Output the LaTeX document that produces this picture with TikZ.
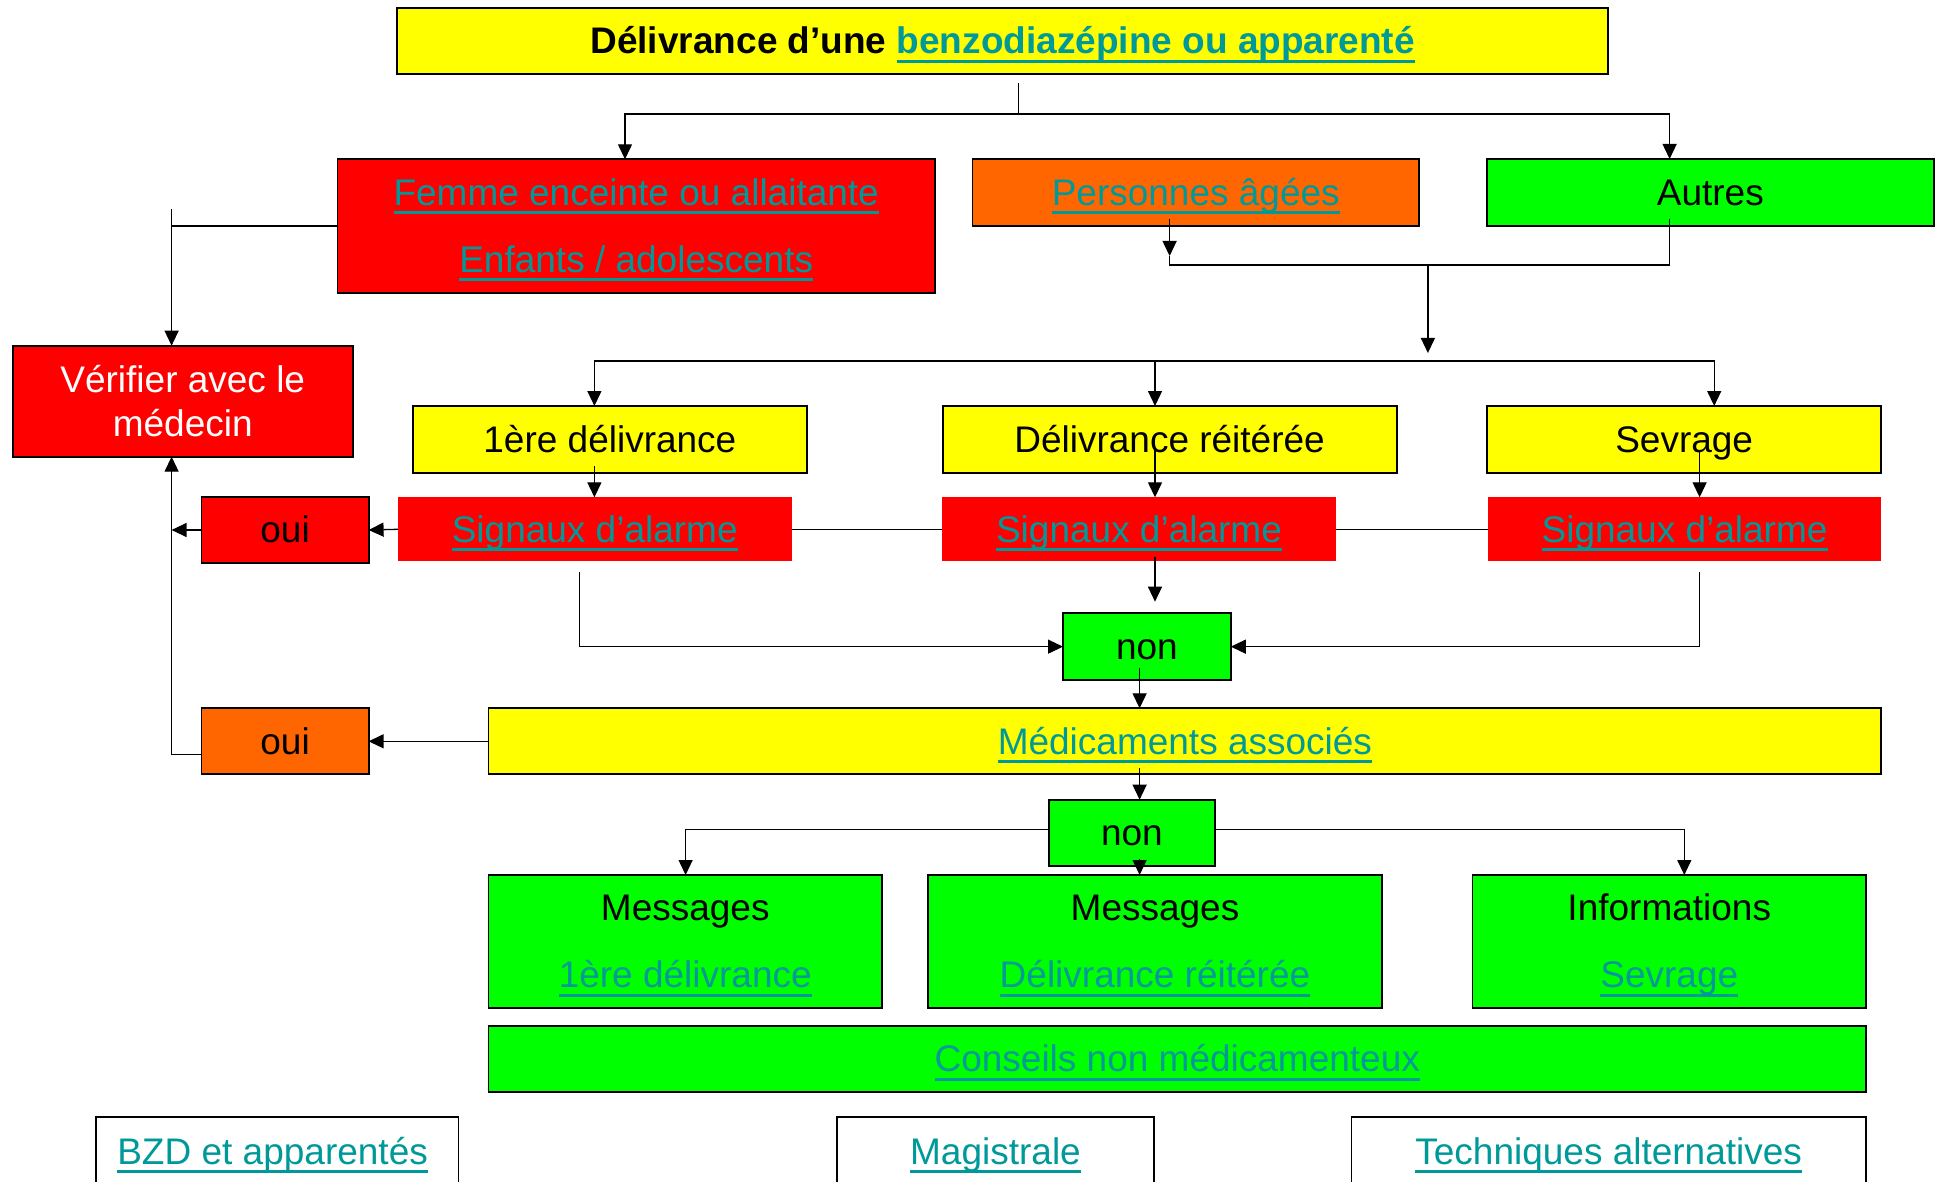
\documentclass[tikz,border=0pt]{standalone}
\usepackage{fontspec}
\setmainfont{Liberation Sans}
\usetikzlibrary{arrows.meta,calc}
\definecolor{jaune}{HTML}{FFFF00}
\definecolor{rouge}{HTML}{FF0000}
\definecolor{orangec}{HTML}{FF6600}
\definecolor{vert}{HTML}{00FF00}
\definecolor{liencol}{HTML}{009999}
\newcommand{\taille}{\fontsize{18.5}{22}\selectfont}
\newcommand{\ppstrut}{\rule[-0.212em]{0pt}{1.117em}}
\newsavebox{\boxlien}
\newcommand{\hlien}[1]{\textcolor{liencol}{\sbox{\boxlien}{#1}\rlap{\smash{\rule[-4.35pt]{\wd\boxlien}{1.3pt}}}\usebox{\boxlien}}}

\begin{document}
\begin{tikzpicture}[x=0.5pt, y=-0.5pt, >={Triangle[length=7.5pt,width=7pt]}, line width=0.65pt,
    boite/.style={draw, line width=0.9pt, inner sep=0pt, outer sep=0pt, align=center, font=\taille,
      execute at begin node=\ppstrut, execute at end node=\ppstrut},
    jaunebox/.style={boite, fill=jaune},
    rougebox/.style={boite, fill=rouge},
    orangebox/.style={boite, fill=orangec},
    vertbox/.style={boite, fill=vert},
    alarmebox/.style={boite, draw=none, fill=rouge},
    lienbox/.style={boite, fill=white}]
    \fill[white, use as bounding box] (0,0) rectangle (1939,1182);
    \clip (0,0) rectangle (1939,1182);

    % titre et populations
    \node[jaunebox, minimum width=605.4pt, minimum height=33pt] (titre) at (1002.65,41)
        {\textbf{Délivrance d’une \hlien{benzodiazépine ou apparenté}}};
    \node[rougebox, minimum width=298.8pt, minimum height=66.7pt] (femme) at (636.2,226)
        {\ppstrut\hlien{Femme enceinte ou allaitante}\\[11.5pt]\hlien{Enfants / adolescents}\ppstrut};
    \node[orangebox, minimum width=223.25pt, minimum height=33.35pt] (agees) at (1195.75,192.35) {\hlien{Personnes âgées}};
    \node[vertbox, minimum width=223.3pt, minimum height=33.35pt] (autres) at (1710.3,192.35) {Autres};
    \node[rougebox, text=white, minimum width=170pt, minimum height=55.5pt] (verifier) at (182.75,401.2)
        {\ppstrut Vérifier avec le\\médecin\ppstrut};

    % type de delivrance
    \node[jaunebox, minimum width=196.9pt, minimum height=33.35pt] (prem) at (609.9,439.35) {1ère délivrance};
    \node[jaunebox, minimum width=227pt, minimum height=33.35pt] (reit) at (1169.6,439.35) {Délivrance réitérée};
    \node[jaunebox, minimum width=197.15pt, minimum height=33.35pt] (sevr) at (1684.15,439.35) {Sevrage};

    % signaux d'alarme
    \node[alarmebox, minimum width=196.75pt, minimum height=32pt] (sig1) at (594.75,529.3) {\hlien{Signaux d’alarme}};
    \node[alarmebox, minimum width=197pt, minimum height=32pt] (sig2) at (1139,529.3) {\hlien{Signaux d’alarme}};
    \node[alarmebox, minimum width=196.75pt, minimum height=32pt] (sig3) at (1684.55,529.3) {\hlien{Signaux d’alarme}};
    \node[rougebox, minimum width=83.55pt, minimum height=33.3pt] (oui1) at (285.05,530) {oui};
    \node[vertbox, minimum width=83.9pt, minimum height=33.35pt] (non1) at (1146.9,646.65) {non};

    % medicaments associes
    \node[orangebox, minimum width=83.55pt, minimum height=33pt] (oui2) at (285.05,741.3) {oui};
    \node[jaunebox, minimum width=696.4pt, minimum height=33pt] (medic) at (1184.9,741.3) {\hlien{Médicaments associés}};
    \node[vertbox, minimum width=82.95pt, minimum height=33.15pt] (non2) at (1131.95,832.85) {non};

    % messages
    \node[vertbox, minimum width=196.75pt, minimum height=66.65pt] (mess1) at (685.25,941.65)
        {\ppstrut Messages\\[11.5pt]\hlien{1ère délivrance}\ppstrut};
    \node[vertbox, minimum width=227pt, minimum height=66.65pt] (mess2) at (1155,941.65)
        {\ppstrut Messages\\[11.5pt]\hlien{Délivrance réitérée}\ppstrut};
    \node[vertbox, minimum width=196.75pt, minimum height=66.65pt] (info) at (1669.25,941.65)
        {\ppstrut Informations\\[11.5pt]\hlien{Sevrage}\ppstrut};
    \node[vertbox, minimum width=688.75pt, minimum height=33.15pt] (conseils) at (1177.25,1059.15) {\hlien{Conseils non médicamenteux}};

    % liens en bas
    \node[lienbox, minimum width=181.4pt, minimum height=34.65pt] (bzd) at (277.1,1151.5) {\hlien{BZD et apparentés}\hspace*{4.5pt}};
    \node[lienbox, minimum width=158.8pt, minimum height=34.65pt] (magis) at (995.5,1151.5) {\hlien{Magistrale}};
    \node[lienbox, minimum width=257.3pt, minimum height=34.65pt] (techn) at (1608.7,1151.5) {\hlien{Techniques alternatives}};

    % points de passage
    \coordinate (t0) at (1018.4,83);
    \coordinate (t1) at (1018.4,114);
    \coordinate (t2) at (625,114);
    \coordinate (t3) at (1669.6,114);
    \coordinate (g0) at (1169.6,219);
    \coordinate (g1) at (1169.6,256);
    \coordinate (g2) at (1169.6,265);
    \coordinate (a0) at (1669.6,219);
    \coordinate (a1) at (1669.6,265);
    \coordinate (m0) at (1427.9,265);
    \coordinate (m1) at (1427.9,353);
    \coordinate (d0) at (1155,361);
    \coordinate (d1) at (594.4,361);
    \coordinate (d3) at (1714.2,361);
    \coordinate (f0) at (171.6,209);
    \coordinate (v0) at (171.6,754.3);
    \coordinate (p0) at (594.4,466);
    \coordinate (r0) at (1155,450);
    \coordinate (s0) at (1699.6,452);
    \coordinate (e1) at (579.7,572.3);
    \coordinate (e2) at (1155,557);
    \coordinate (e2b) at (1155,601.7);
    \coordinate (e3) at (1699.6,572.3);
    \coordinate (n0) at (1139.6,668);
    \coordinate (n1) at (1139.6,768.3);
    \coordinate (n2) at (1139.6,859);
    \coordinate (k1) at (685.6,829.3);
    \coordinate (k3) at (1684.3,829.3);

    % connecteurs
    \draw (t0) -- (t1);
    \draw[->] (t1) -- (t2) -- (t2 |- femme.north);
    \draw[->] (t1) -- (t3) -- (t3 |- autres.north);
    \draw[->] (g0) -- (g1);
    \draw (g1) -- (g2) -- (a1) -- (a0);
    \draw[->] (m0) -- (m1);
    \draw[->] (d0) -- (d0 |- reit.north);
    \draw[->] (d0) -- (d1) -- (d1 |- prem.north);
    \draw[->] (d0) -- (d3) -- (d3 |- sevr.north);
    \draw[->] (p0) -- (p0 |- sig1.north);
    \draw[->] (r0) -- (r0 |- sig2.north);
    \draw[->] (s0) -- (s0 |- sig3.north);
    \draw (sig1.east) -- (sig2.west) (sig2.east) -- (sig3.west);
    \draw[->] (sig1.west) -- (oui1.east);
    \draw[->] (oui1.west) -- (oui1.west -| v0);
    \draw (femme.west) -- (femme.west -| f0);
    \draw[->] (f0) -- (f0 |- verifier.north);
    \draw[->] (oui2.west |- v0) -- (v0) -- (v0 |- verifier.south);
    \draw[->] (e1) |- (non1.west);
    \draw[->] (e3) |- (non1.east);
    \draw[->] (e2) -- (e2b);
    \draw[->] (n0) -- (n0 |- medic.north);
    \draw[->] (medic.west) -- (oui2.east);
    \draw[->] (n1) -- (n1 |- non2.north);
    \draw[->] (non2.west |- k1) -- (k1) -- (k1 |- mess1.north);
    \draw[->] (non2.east |- k3) -- (k3) -- (k3 |- info.north);
    \draw[->] (n2) -- (n2 |- mess2.north);
\end{tikzpicture}
\end{document}
